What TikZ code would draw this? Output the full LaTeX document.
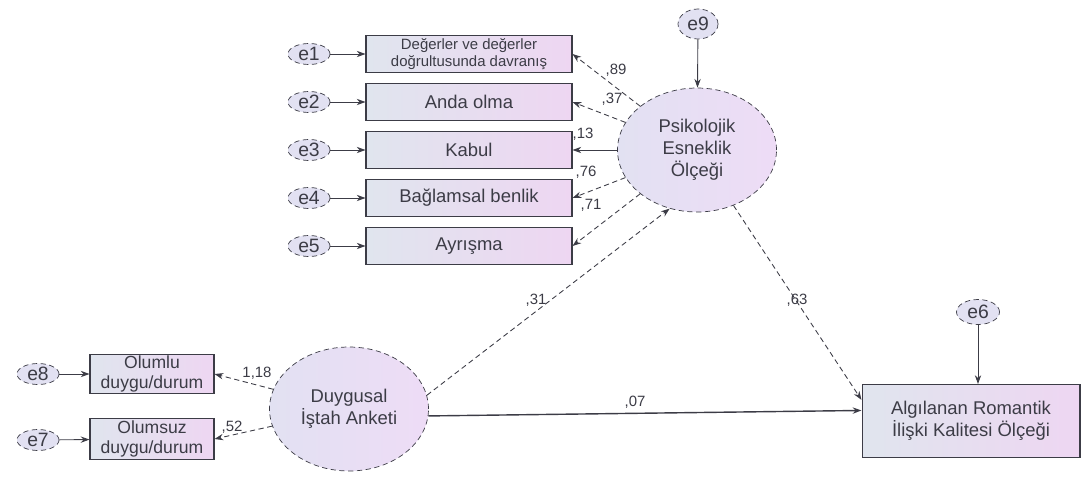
\documentclass[tikz,border=0pt]{standalone}
\usepackage{fontspec}
\setmainfont{Liberation Sans}
\usetikzlibrary{shapes.geometric,arrows.meta}
\definecolor{boxL}{RGB}{224,229,238}
\definecolor{boxR}{RGB}{238,214,242}
\definecolor{latL}{RGB}{226,225,242}
\definecolor{latR}{RGB}{238,220,246}
\definecolor{edge}{RGB}{60,60,70}
\tikzset{>={Stealth[length=5pt,width=3.6pt]},
  obs/.style={draw=edge, line width=0.6pt, left color=boxL, right color=boxR,
    inner sep=0pt, align=center, text=edge, font=\fontsize{10.5}{12.5}\selectfont},
  lat/.style={ellipse, draw=edge, densely dashed, left color=latL, right color=latR,
    inner sep=0pt, minimum width=3.18cm, minimum height=2.48cm, align=center,
    text=edge, font=\fontsize{10.5}{12.5}\selectfont},
  err/.style={ellipse, draw=edge, densely dashed, fill=latL, inner sep=0pt,
    minimum width=0.84cm, minimum height=0.42cm, text=edge,
    font=\fontsize{11}{12}\selectfont},
  coef/.style={inner sep=1pt, text=edge, font=\fontsize{8.5}{10}\selectfont},
  lnk/.style={draw=edge, line width=0.5pt, ->},
  load/.style={lnk, densely dashed}
}

\begin{document}
\begin{tikzpicture}[x=0.02cm,y=-0.02cm]
    \useasboundingbox (0,0) rectangle (1089,480);
    % indicators of the flexibility scale
    \node[obs, minimum width=4.12cm, minimum height=0.74cm,
      font=\fontsize{8.5}{9.5}\selectfont] (b1) at (469,54) {Değerler ve değerler\\doğrultusunda davranış};
    \node[obs, minimum width=4.12cm, minimum height=0.74cm] (b2) at (469,102) {Anda olma};
    \node[obs, minimum width=4.12cm, minimum height=0.74cm] (b3) at (469,150) {Kabul};
    \node[obs, minimum width=4.12cm, minimum height=0.74cm] (b4) at (469,198) {Bağlamsal benlik};
    \node[obs, minimum width=4.12cm, minimum height=0.74cm] (b5) at (469,246) {Ayrışma};
    \foreach \i/\y in {1/54, 2/102, 3/150, 4/198, 5/246} {
      \node[err] (e\i) at (309,\y) {e\i};
      \draw[lnk] (e\i) -- (b\i);
    }
    % latent variables
    \node[lat] (psy) at (697,150) {Psikolojik\\Esneklik\\Ölçeği};
    \node[err, minimum width=0.8cm, minimum height=0.6cm] (e9) at (698,24) {e9};
    \node[lat] (duy) at (349,409) {Duygusal\\İştah Anketi};
    \node[obs, minimum width=2.48cm, minimum height=0.78cm,
      font=\fontsize{10}{11}\selectfont] (olu) at (152,374) {Olumlu\\duygu/durum};
    \node[obs, minimum width=2.48cm, minimum height=0.82cm,
      font=\fontsize{10}{11}\selectfont] (ols) at (152,439) {Olumsuz\\duygu/durum};
    \node[err] (e8) at (38,374) {e8};
    \node[err] (e7) at (38,440) {e7};
    \node[obs, minimum width=4.36cm, minimum height=1.46cm] (alg) at (971,421) {Algılanan Romantik\\İlişki Kalitesi Ölçeği};
    \node[err, minimum width=0.86cm, minimum height=0.5cm] (e6) at (978,312) {e6};
    % paths
    \draw[load] (psy) -- (b1.east);
    \draw[load] (psy) -- (b2.east);
    \draw[lnk] (psy) -- (b3.east);
    \draw[load] (psy) -- (b4.east);
    \draw[load] (psy) -- (b5.east);
    \draw[lnk] (e9) -- (psy);
    \draw[load] (duy) -- (olu.east);
    \draw[load] (duy) -- (ols.east);
    \draw[lnk] (e8) -- (olu);
    \draw[lnk] (e7) -- (ols);
    \draw[load] (duy.10) -- (psy.245);
    \draw[load] (psy) -- ([yshift=12pt]alg.west);
    \draw[lnk, line width=0.8pt] (duy.355) -- ([yshift=6pt]alg.west);
    \draw[lnk] (e6) -- (e6 |- alg.north);
    % estimates
    \node[coef] (l1) at (616,70) {,89};
    \node[coef] (l2) at (612,99) {,37};
    \node[coef] (l3) at (583,134) {,13};
    \node[coef] (l4) at (586,172) {,76};
    \node[coef] (l5) at (591,205) {,71};
    \node[coef] (l6) at (536,300) {,31};
    \node[coef] (l7) at (797,300) {,63};
    \node[coef] (l8) at (635,402) {,07};
    \node[coef] (l9) at (257,373) {1,18};
    \node[coef] (l10) at (232,427) {,52};
\end{tikzpicture}
\end{document}
